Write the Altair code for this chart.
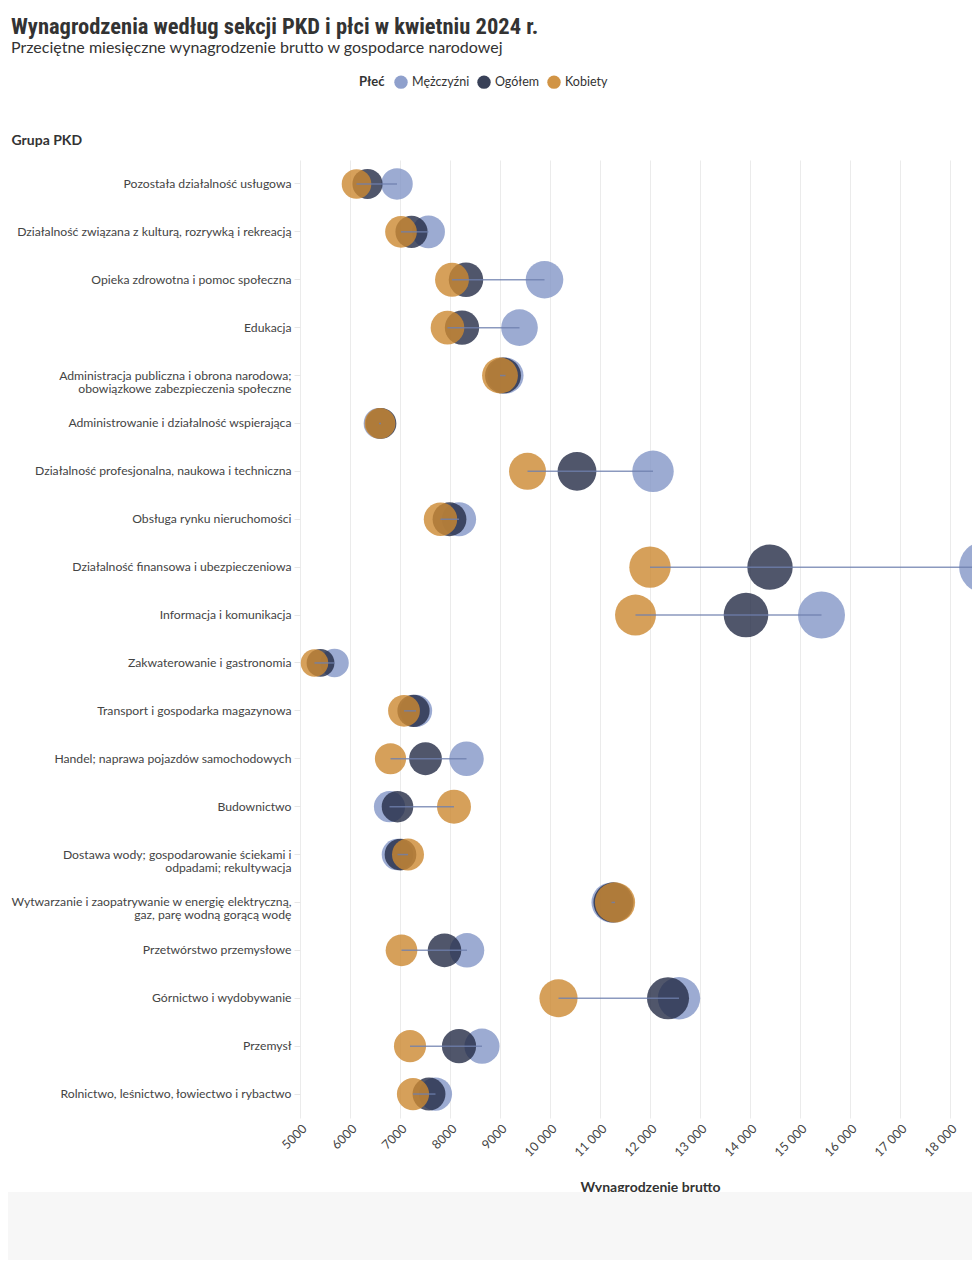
import altair as alt
import pandas as pd

categories = [
    "Pozostała działalność usługowa",
    "Działalność związana z kulturą, rozrywką i rekreacją",
    "Opieka zdrowotna i pomoc społeczna",
    "Edukacja",
    "Administracja publiczna i obrona narodowa;|obowiązkowe zabezpieczenia społeczne",
    "Administrowanie i działalność wspierająca",
    "Działalność profesjonalna, naukowa i techniczna",
    "Obsługa rynku nieruchomości",
    "Działalność finansowa i ubezpieczeniowa",
    "Informacja i komunikacja",
    "Zakwaterowanie i gastronomia",
    "Transport i gospodarka magazynowa",
    "Handel; naprawa pojazdów samochodowych",
    "Budownictwo",
    "Dostawa wody; gospodarowanie ściekami i|odpadami; rekultywacja",
    "Wytwarzanie i zaopatrywanie w energię elektryczną,|gaz, parę wodną gorącą wodę",
    "Przetwórstwo przemysłowe",
    "Górnictwo i wydobywanie",
    "Przemysł",
    "Rolnictwo, leśnictwo, łowiectwo i rybactwo",
]

men = [6940, 7570, 9890, 9390, 9110, 6580, 12060, 8180, 18700, 15430,
       5690, 7320, 8330, 6790, 6950, 11230, 8340, 12580, 8640, 7710]
total = [6350, 7230, 8320, 8240, 9060, 6620, 10540, 7990, 14400, 13920,
         5410, 7270, 7510, 6950, 7010, 11270, 7890, 12360, 8180, 7580]
women = [6130, 7020, 8040, 7950, 9000, 6600, 9550, 7810, 12000, 11710,
         5290, 7080, 6810, 8080, 7160, 11300, 7030, 10170, 7200, 7260]

sexes = ["Mężczyźni", "Ogółem", "Kobiety"]
colors = ["#8396c7", "#242c46", "#cc8831"]
legend_colors = ["#95a5d0", "#2c3449", "#d29543"]
x_ticks = [5000, 6000, 7000, 8000, 9000, 10000, 11000, 12000, 13000,
           14000, 15000, 16000, 17000, 18000]

rows = []
for s, vals in zip(sexes, [men, total, women]):
    for c, v in zip(categories, vals):
        rows.append({"grupa": c, "plec": s, "wynagrodzenie": v})
df = pd.DataFrame(rows)

FONT = "Lato"
TITLE_FONT = "Roboto Condensed, Liberation Sans Narrow, DejaVu Sans Condensed, Roboto"

y_axis = alt.Axis(
    labelExpr="split(datum.label, '|')",
    labelFont=FONT, labelFontSize=12.2, labelColor="#444", labelLimit=400,
    labelPadding=3, labelLineHeight=13, tickSize=6, tickColor="#e6e6e6",
    domain=False, grid=False,
    titleAngle=0, titleAlign="left", titleBaseline="middle",
    titleX=-289, titleY=-20, titleFont=FONT, titleFontSize=14,
    titleFontWeight="bold", titleColor="#333",
)
x_axis = alt.Axis(
    values=x_ticks, labelAngle=315,
    labelExpr="datum.value >= 10000 ? replace(format(datum.value, ','), ',', ' ') : format(datum.value, 'd')",
    labelFont=FONT, labelFontSize=12.5, labelColor="#444", labelPadding=4,
    grid=True, gridColor="#ebebeb", domain=False, ticks=False,
    titleFont=FONT, titleFontSize=14, titleFontWeight="bold", titleColor="#333",
    titleX=350, titleY=69, titleBaseline="middle",
)

xscale = alt.Scale(domain=[5000, 18440], nice=False, zero=False)

points = alt.Chart(df).mark_circle(opacity=0.8).encode(
    y=alt.Y("grupa:N", sort=categories, title="Grupa PKD", axis=y_axis),
    x=alt.X("wynagrodzenie:Q", title="Wynagrodzenie brutto", scale=xscale, axis=x_axis),
    size=alt.Size("wynagrodzenie:Q", scale=alt.Scale(domain=[0, 20000], range=[0, 2860]), legend=None),
    color=alt.Color("plec:N", scale=alt.Scale(domain=sexes, range=colors),
                    legend=alt.Legend(
                        title="Płeć", orient="none", legendX=59, legendY=-85,
                        direction="horizontal", titleOrient="left",
                        symbolType="circle", symbolSize=180, symbolOpacity=0.9,
                        symbolStrokeWidth=0,
                        labelFont=FONT, labelFontSize=12.5, labelColor="#333",
                        titleFont=FONT, titleFontSize=13, titleFontWeight="bold",
                        titleColor="#333", columnPadding=7, labelOffset=4,
                        padding=0, titlePadding=9)),
)

rule = alt.Chart(df).mark_rule(color="#6e7fae", strokeWidth=1.5, opacity=0.8).encode(
    y=alt.Y("grupa:N", sort=categories, title="Grupa PKD"),
    x=alt.X("min(wynagrodzenie):Q", title="Wynagrodzenie brutto", scale=xscale),
    x2="max(wynagrodzenie):Q",
)

band = alt.Chart(pd.DataFrame({"a": [0]})).mark_rect(color="#f7f7f7").encode(
    x=alt.value(-300), x2=alt.value(700), y=alt.value(1032), y2=alt.value(1110)
)

chart = alt.layer(points, rule, band).properties(
    width=672, height=958,
    autosize=alt.AutoSizeParams(type="none"),
    padding={"left": 292, "top": 152, "right": 0, "bottom": 142},
    title=alt.TitleParams(
        text="Wynagrodzenia według sekcji PKD i płci w kwietniu 2024 r.",
        subtitle="Przeciętne miesięczne wynagrodzenie brutto w gospodarce narodowej",
        anchor="start", frame="group", dx=-289,
        font=TITLE_FONT, fontSize=22.5, fontWeight="bold", color="#333",
        subtitleFont=FONT, subtitleFontSize=16, subtitleColor="#333",
        subtitlePadding=2, offset=19,
    ),
).configure_view(stroke=None)

chart.save("out.html", embed_options={"renderer": "svg", "actions": False})
